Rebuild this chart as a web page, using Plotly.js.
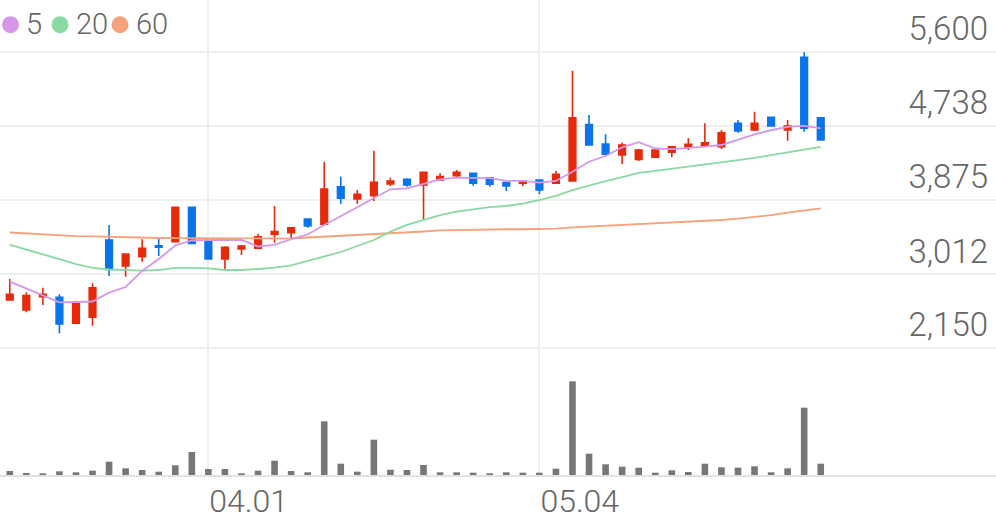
<!DOCTYPE html>
<html>
<head>
<meta charset="utf-8">
<script src="https://cdn.plot.ly/plotly-3.0.1.min.js"></script>
<style>html,body{margin:0;padding:0;background:#fff;}#chart{width:996px;height:519px;}</style>
</head>
<body>
<div id="chart"></div>
<script>
// ---- data ----
const idx = Array.from({length: 50}, (_, i) => i);
const openP  = [2710,2593,2748,2741,2438,2508,3409,3106,3214,3342,3389,3790,3409,3187,3304,3312,3475,3494,3654,3592,4030,3887,3925,4062,4116,4050,4108,4158,4186,4135,4077,4070,4108,4070,4097,4753,4528,4400,4349,4373,4431,4489,4504,4496,4769,4691,4839,4691,5538,4834];
const highP  = [2954,2799,2853,2776,2700,2904,3584,3246,3417,3429,3790,3790,3420,3335,3350,3482,3805,3560,3660,4321,4147,3992,4450,4135,4128,4205,4186,4225,4190,4140,4081,4100,4116,4213,5382,4866,4641,4543,4469,4478,4500,4594,4769,4691,4807,4904,4845,4807,5596,4840];
const lowP   = [2705,2566,2651,2321,2430,2410,2989,2981,3156,3222,3380,3365,3180,3059,3234,3300,3377,3409,3552,3576,3828,3828,3863,4038,4030,3650,4100,4140,4042,4030,3980,4038,3942,4062,4088,4516,4400,4295,4330,4365,4373,4458,4489,4469,4659,4679,4738,4566,4671,4574];
const closeP = [2776,2760,2776,2430,2690,2853,3067,3246,3312,3325,3790,3370,3187,3324,3339,3447,3506,3552,3572,4003,3895,3942,4081,4097,4050,4198,4147,4198,4070,4058,4038,4097,3992,4175,4834,4516,4408,4516,4458,4458,4496,4524,4543,4659,4679,4769,4738,4738,4711,4574];
const volume = [40000,20000,17000,37000,27000,43000,133000,67000,50000,33000,97000,230000,60000,60000,17000,43000,143000,40000,27000,537000,113000,33000,353000,53000,50000,100000,27000,27000,23000,17000,27000,23000,23000,63000,937000,213000,107000,83000,73000,23000,47000,30000,113000,77000,73000,87000,27000,67000,673000,113000];
const ma5  = [2923,2845,2761,2683,2686,2692,2795,2861,3048,3187,3345,3403,3409,3409,3409,3333,3351,3420,3473,3584,3683,3790,3898,4000,4011,4062,4116,4135,4135,4131,4097,4097,4077,4097,4205,4321,4388,4489,4548,4475,4468,4478,4496,4516,4576,4640,4688,4728,4738,4711];
const ma20 = [3351,3298,3246,3187,3129,3083,3065,3056,3051,3059,3083,3083,3077,3059,3059,3071,3086,3114,3164,3217,3269,3339,3409,3506,3584,3644,3700,3739,3767,3793,3805,3834,3875,3922,3990,4046,4095,4142,4191,4214,4238,4260,4283,4311,4339,4365,4396,4429,4460,4494];
const ma60 = [3496,3485,3475,3464,3455,3450,3444,3438,3436,3432,3430,3429,3426,3423,3421,3421,3421,3426,3438,3447,3455,3464,3473,3485,3496,3508,3520,3525,3529,3531,3534,3534,3535,3541,3555,3564,3572,3581,3592,3600,3609,3619,3630,3642,3657,3677,3700,3729,3753,3778];
const xTickPos = [12, 32];
const xTickLabels = ['04.01', '05.04'];
const yTickVals = [2150, 3012, 3875, 4738, 5600];
const yTickLabels = ['2,150', '3,012', '3,875', '4,738', '5,600'];
const maNames = ['5', '20', '60'];
const maColors = ['#d597e9', '#8bd9a2', '#f6a27b'];

// ---- chart ----
const FONT = 'Roboto, "Open Sans", sans-serif';
const traces = [
  {type: 'bar', x: idx, y: volume, yaxis: 'y2', width: 0.4,
   marker: {color: '#777777'}, hoverinfo: 'skip'},
  {type: 'scatter', mode: 'lines', x: idx, y: ma60, line: {color: maColors[2], width: 1.8}, hoverinfo: 'skip'},
  {type: 'scatter', mode: 'lines', x: idx, y: ma20, line: {color: maColors[1], width: 1.8}, hoverinfo: 'skip'},
  {type: 'scatter', mode: 'lines', x: idx, y: ma5, line: {color: maColors[0], width: 1.8}, hoverinfo: 'skip'},
  {type: 'candlestick', x: idx, open: openP, high: highP, low: lowP, close: closeP,
   increasing: {line: {color: '#e62a0a', width: 1.6}, fillcolor: '#e62a0a'},
   decreasing: {line: {color: '#0a74ea', width: 1.6}, fillcolor: '#0a74ea'},
   whiskerwidth: 0, hoverinfo: 'skip'}
];

const H = 475; // plot-area height in px
const annotations = [];
const shapes = [];
const circX = [10.5, 60, 120];
const txtX = [24, 74, 134];
maNames.forEach((n, i) => {
  shapes.push({type: 'circle', xref: 'paper', yref: 'paper',
    xsizemode: 'pixel', ysizemode: 'pixel', xanchor: circX[i] / 996, yanchor: 1 - 24.7 / H,
    x0: -8.5, x1: 8.5, y0: -8.5, y1: 8.5, fillcolor: maColors[i], line: {width: 0}});
  annotations.push({xref: 'paper', yref: 'paper', x: txtX[i] / 996, y: 1 - 24 / H,
    xanchor: 'left', yanchor: 'middle', showarrow: false, text: n,
    font: {family: FONT, size: 29, color: '#666666', weight: 300}});
});

const layout = {
  width: 996, height: 519,
  margin: {l: 0, r: 0, t: 0, b: 44, pad: 0},
  paper_bgcolor: '#ffffff', plot_bgcolor: '#ffffff',
  showlegend: false,
  boxgap: 0.6, boxgroupgap: 0,
  xaxis: {range: [-0.59, 59.59], tickmode: 'array', tickvals: xTickPos, ticktext: xTickLabels,
    showgrid: true, gridcolor: '#efefef', gridwidth: 2, zeroline: false,
    showline: true, linecolor: '#e2e2e2', linewidth: 2, ticks: '',
    ticklabelposition: 'outside right', ticklabelstandoff: -3,
    tickfont: {family: FONT, size: 32, color: '#666666', weight: 300},
    rangeslider: {visible: false}, fixedrange: true},
  yaxis: {side: 'right', range: [670, 6206], tickmode: 'array', tickvals: yTickVals, ticktext: yTickLabels,
    showgrid: true, gridcolor: '#efefef', gridwidth: 2, zeroline: false, showline: false, ticks: '',
    ticklabelposition: 'inside top', ticklabelstandoff: 5,
    tickfont: {family: FONT, size: 33, color: '#666666', weight: 300}, fixedrange: true},
  yaxis2: {overlaying: 'y', range: [0, 4750000], visible: false, fixedrange: true},
  shapes: shapes,
  annotations: annotations
};

Plotly.newPlot('chart', traces, layout, {staticPlot: true, displayModeBar: false});
</script>
</body>
</html>
